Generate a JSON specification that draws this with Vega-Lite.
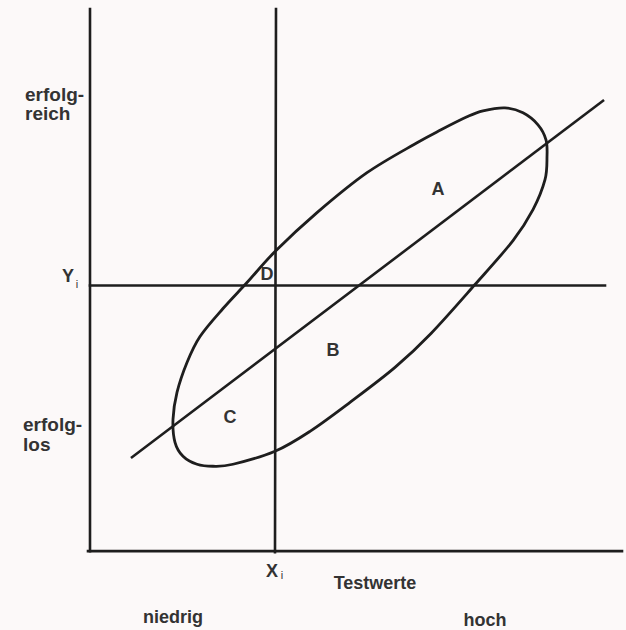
{
  "$schema": "https://vega.github.io/schema/vega-lite/v6.json",
  "autosize": {"type": "fit", "contains": "padding"},
  "width": 626,
  "height": 630,
  "padding": 0,
  "background": "#fcf9f9",
  "config": {"view": {"stroke": null}},
  "datasets": {
    "segments": [
      {"name": "y-axis", "x": 90, "y": 9, "x2": 90, "y2": 552},
      {"name": "x-axis", "x": 88, "y": 552, "x2": 622, "y2": 552},
      {"name": "Xi", "x": 276, "y": 9, "x2": 275, "y2": 553},
      {"name": "Yi", "x": 90, "y": 286, "x2": 605, "y2": 286},
      {"name": "regression", "x": 132, "y": 458, "x2": 603, "y2": 101}
    ],
    "ellipse": [
      {"i": 0, "x": 483, "y": 111},
      {"i": 1, "x": 505, "y": 108},
      {"i": 2, "x": 523, "y": 113},
      {"i": 3, "x": 538, "y": 125},
      {"i": 4, "x": 546, "y": 140},
      {"i": 5, "x": 547, "y": 157},
      {"i": 6, "x": 545, "y": 180},
      {"i": 7, "x": 533, "y": 210},
      {"i": 8, "x": 513, "y": 241},
      {"i": 9, "x": 475, "y": 285},
      {"i": 10, "x": 431, "y": 334},
      {"i": 11, "x": 395, "y": 368},
      {"i": 12, "x": 350, "y": 403},
      {"i": 13, "x": 310, "y": 432},
      {"i": 14, "x": 275, "y": 452},
      {"i": 15, "x": 233, "y": 465},
      {"i": 16, "x": 213, "y": 467},
      {"i": 17, "x": 197, "y": 465},
      {"i": 18, "x": 183, "y": 457},
      {"i": 19, "x": 175, "y": 443},
      {"i": 20, "x": 173, "y": 420},
      {"i": 21, "x": 177, "y": 393},
      {"i": 22, "x": 187, "y": 363},
      {"i": 23, "x": 200, "y": 337},
      {"i": 24, "x": 223, "y": 309},
      {"i": 25, "x": 247, "y": 283},
      {"i": 26, "x": 275, "y": 252},
      {"i": 27, "x": 317, "y": 213},
      {"i": 28, "x": 367, "y": 173},
      {"i": 29, "x": 417, "y": 143},
      {"i": 30, "x": 441, "y": 130},
      {"i": 31, "x": 467, "y": 117}
    ],
    "sideLabels": [
      {"label": "erfolg-", "x": 25, "y": 101},
      {"label": "reich", "x": 25, "y": 120},
      {"label": "erfolg-", "x": 23, "y": 432},
      {"label": "los", "x": 23, "y": 452}
    ],
    "labels": [
      {"label": "A", "x": 438, "y": 195},
      {"label": "B", "x": 333, "y": 357},
      {"label": "C", "x": 230, "y": 424},
      {"label": "D", "x": 267, "y": 280},
      {"label": "Testwerte", "x": 375, "y": 590},
      {"label": "niedrig", "x": 173, "y": 624},
      {"label": "hoch", "x": 485, "y": 627},
      {"label": "X", "x": 272, "y": 578},
      {"label": "Y", "x": 68, "y": 282}
    ],
    "subs": [
      {"label": "i", "x": 282, "y": 580},
      {"label": "i", "x": 77, "y": 288}
    ]
  },
  "layer": [
    {
      "data": {"name": "segments"},
      "mark": {"type": "rule", "stroke": "#1e1e1e", "strokeWidth": 2.6, "strokeCap": "square"},
      "encoding": {
        "x": {"field": "x", "type": "quantitative", "scale": {"domain": [0, 626], "nice": false, "zero": false}, "axis": null},
        "y": {"field": "y", "type": "quantitative", "scale": {"domain": [0, 630], "nice": false, "zero": false, "reverse": true}, "axis": null},
        "x2": {"field": "x2"},
        "y2": {"field": "y2"}
      }
    },
    {
      "data": {"name": "ellipse"},
      "mark": {"type": "line", "interpolate": "cardinal-closed", "stroke": "#1e1e1e", "strokeWidth": 2.8},
      "encoding": {
        "x": {"field": "x", "type": "quantitative"},
        "y": {"field": "y", "type": "quantitative"},
        "order": {"field": "i", "type": "quantitative"}
      }
    },
    {
      "data": {"name": "sideLabels"},
      "mark": {"type": "text", "align": "left", "baseline": "alphabetic", "font": "Liberation Sans", "fontWeight": "bold", "fontSize": 19, "fill": "#333333"},
      "encoding": {
        "x": {"field": "x", "type": "quantitative"},
        "y": {"field": "y", "type": "quantitative"},
        "text": {"field": "label"}
      }
    },
    {
      "data": {"name": "labels"},
      "mark": {"type": "text", "align": "center", "baseline": "alphabetic", "font": "Liberation Sans", "fontWeight": "bold", "fontSize": 18, "fill": "#333333"},
      "encoding": {
        "x": {"field": "x", "type": "quantitative"},
        "y": {"field": "y", "type": "quantitative"},
        "text": {"field": "label"}
      }
    },
    {
      "data": {"name": "subs"},
      "mark": {"type": "text", "align": "center", "baseline": "alphabetic", "font": "Liberation Sans", "fontSize": 11, "fill": "#333333"},
      "encoding": {
        "x": {"field": "x", "type": "quantitative"},
        "y": {"field": "y", "type": "quantitative"},
        "text": {"field": "label"}
      }
    }
  ]
}
